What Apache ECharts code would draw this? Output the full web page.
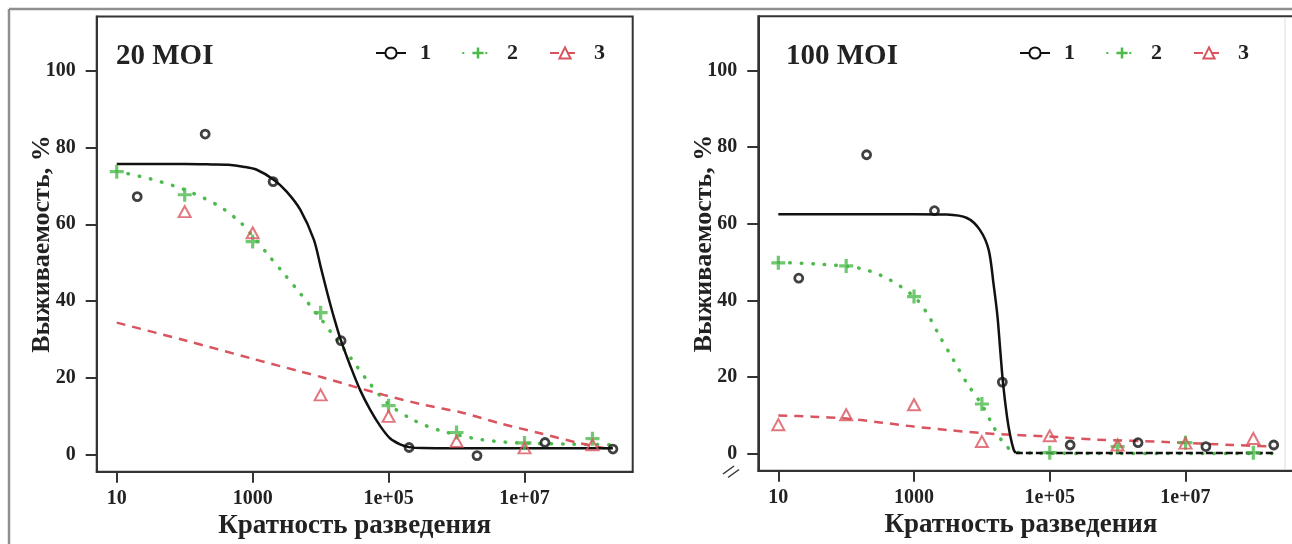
<!DOCTYPE html>
<html><head><meta charset="utf-8">
<script src="https://cdn.jsdelivr.net/npm/echarts@6/dist/echarts.min.js"></script>
<style>html,body{margin:0;padding:0;background:#fff}#c{width:1292px;height:544px}</style>
</head><body><div id="c"></div>
<script>
// ---------- DATA ----------
const panelTitles = ['20 MOI', '100 MOI'];
const seriesNames = ['1', '2', '3'];
const xAxisTitle = 'Кратность разведения';
const yAxisTitle = 'Выживаемость, %';
const xTickValues = [10, 1000, 1e5, 1e7];
const xTickLabels = ['10', '1000', '1e+05', '1e+07'];
const yTickValues = [0, 20, 40, 60, 80, 100];

// dilutions of the measured points
const dilution23 = [10, 100, 1000, 1e4, 1e5, 1e6, 1e7, 1e8];   // series 2 and 3
const dilution1 = [20, 200, 2000, 2e4, 2e5, 2e6, 2e7, 2e8];     // series 1

// 20 MOI measured survival, %
const moi20_s1 = [67.2, 83.5, 71.1, 29.7, 1.9, -0.2, 3.2, 1.5];
const moi20_s2 = [73.7, 67.7, 55.5, 37.0, 12.8, 5.8, 3.1, 4.2];
const moi20_s3 = [null, 63.3, 57.8, 15.6, 10.0, 3.5, 1.8, 2.6];
// 100 MOI measured survival, %
const moi100_s1 = [45.8, 78.0, 63.4, 18.7, 2.3, 2.9, 1.9, 2.3];
const moi100_s2 = [49.8, 49.0, 41.0, 13.0, 0.3, 1.9, 2.9, 0.3];
const moi100_s3 = [7.6, 10.2, 12.8, 3.2, 4.7, 2.3, 2.8, 4.0];

// fitted curves: [log10(dilution), survival %]
const fit20_s1 = [[1.0,75.7],[1.5,75.7],[2.0,75.7],[2.4,75.6],[2.64,75.5],[2.86,75.0],[3.06,74.2],[3.31,71.6],[3.5,68.5],[3.7,63.8],[3.9,56.0],[4.0,49.0],[4.1,42.0],[4.2,35.5],[4.3,29.7],[4.44,23.0],[4.58,16.9],[4.73,11.7],[4.88,7.4],[5.02,4.3],[5.17,2.7],[5.3,2.0],[5.5,1.75],[6.0,1.7],[7.0,1.7],[8.3,1.7]];
const fit20_s2 = [[1.0,73.8],[1.5,71.8],[2.0,69.0],[2.5,64.8],[2.82,60.5],[3.0,57.0],[3.23,52.0],[3.43,47.8],[3.7,42.0],[4.0,35.5],[4.19,31.0],[4.44,25.3],[4.68,19.5],[4.98,13.5],[5.37,9.0],[5.76,6.3],[6.35,4.0],[6.89,3.1],[7.6,2.8],[8.3,2.6]];
const fit20_s3 = [[1.0,34.4],[2.0,29.8],[3.0,25.0],[3.7,21.7],[4.02,20.2],[4.48,17.8],[4.93,15.6],[5.52,13.0],[6.1,10.9],[6.64,8.2],[7.23,5.6],[7.77,3.2],[8.3,1.3]];
const fit100_s1 = [[1.0,62.5],[2.0,62.5],[3.0,62.5],[3.48,62.4],[3.78,61.5],[3.97,58.4],[4.1,53.2],[4.17,44.5],[4.23,35.8],[4.27,27.1],[4.31,18.7],[4.37,9.7],[4.42,4.5],[4.47,1.0],[4.5,0.2]];
const fit100_s1_tail = [[4.5,0.2],[8.3,0.2]];
const fit100_s2 = [[1.0,49.9],[1.57,49.5],[2.2,48.4],[2.6,45.8],[3.0,41.0],[3.19,36.7],[3.38,30.6],[3.58,24.5],[3.78,18.4],[4.01,12.5],[4.17,7.1],[4.32,2.8],[4.47,0.6],[4.7,0.2],[6.0,0.1],[8.3,0.1]];
const fit100_s3 = [[1.0,10.0],[1.5,9.7],[2.0,9.2],[2.5,8.2],[3.0,7.1],[3.5,6.2],[4.0,5.4],[4.5,4.9],[5.0,4.5],[5.7,3.7],[6.7,3.1],[7.7,2.3],[8.3,1.9]];

// ---------- STYLE ----------
const FONT = 'Liberation Serif';
const TXT = '#222';
const AX = '#333';
const C1 = '#111111', C2 = '#4cbb4c', C3 = '#d9545f';
const PLUS = 'path://M0,5.4H14V8.6H0Z M5.4,0H8.6V14H5.4Z';

function pts(xs, ys) {
  const out = [];
  xs.forEach((x, i) => { if (ys[i] != null) out.push([Math.log10(x), ys[i]]); });
  return out;
}
function xLabel(v) {
  for (let i = 0; i < xTickValues.length; i++) {
    if (Math.abs(Math.log10(xTickValues[i]) - v) < 1e-6) return xTickLabels[i];
  }
  return '';
}
const xTicks = xTickValues.map(v => Math.log10(v));
const labelFont = {fontFamily: FONT, fontSize: 20, fontWeight: 'bold', color: TXT};

const grids = [
  {left: 96.7, right: 659.3, top: 16.5, bottom: 72.3},
  {left: 758.3, right: -1.5, top: 16.3, bottom: 73.3}
];
const xAxes = [], yAxes = [];
grids.forEach((g, p) => {
  Object.assign(g, {show: true, borderColor: AX, borderWidth: 2, backgroundColor: 'transparent', containLabel: false, outerBoundsMode: 'none'});
  xAxes.push({
    type: 'value', gridIndex: p, min: 0.705, max: 8.592,
    axisLine: {show: true, onZero: false, lineStyle: {color: AX, width: 2}},
    axisTick: {show: true, inside: false, length: 11, customValues: xTicks, lineStyle: {color: AX, width: 2}},
    axisLabel: Object.assign({customValues: xTicks, margin: 17, formatter: xLabel}, labelFont),
    splitLine: {show: false},
    name: xAxisTitle, nameLocation: 'middle', nameGap: 41, nameMoveOverlap: false,
    nameTextStyle: {fontFamily: FONT, fontSize: 27, fontWeight: 'bold', color: TXT, padding: p === 0 ? [0, 20, 0, 0] : [0, 10, 0, 0]}
  });
  yAxes.push({
    type: 'value', gridIndex: p, min: -4.4, max: 114.1,
    axisLine: {show: true, onZero: false, lineStyle: {color: AX, width: 2}},
    axisTick: {show: true, inside: false, length: 11, customValues: yTickValues, lineStyle: {color: AX, width: 2}},
    axisLabel: Object.assign({customValues: yTickValues, margin: 21}, labelFont),
    splitLine: {show: false},
    name: yAxisTitle, nameLocation: 'middle', nameGap: 41, nameMoveOverlap: false,
    nameTextStyle: {fontFamily: FONT, fontSize: 26, fontWeight: 'bold', color: TXT}
  });
});

const panels = [
  {s1: moi20_s1, s2: moi20_s2, s3: moi20_s3, f1: fit20_s1, f2: fit20_s2, f3: fit20_s3, tail: null},
  {s1: moi100_s1, s2: moi100_s2, s3: moi100_s3, f1: fit100_s1, f2: fit100_s2, f3: fit100_s3, tail: fit100_s1_tail}
];
const series = [];
panels.forEach((d, p) => {
  const ax = {xAxisIndex: p, yAxisIndex: p};
  series.push(Object.assign({type: 'line', name: seriesNames[0], data: d.f1, smooth: 0.3, showSymbol: false, symbol: 'emptyCircle',
    itemStyle: {color: C1}, lineStyle: {color: C1, width: 2.5}, z: 3}, ax));
  series.push(Object.assign({type: 'line', name: seriesNames[1], data: d.f2, smooth: 0.3, showSymbol: false, symbol: PLUS,
    itemStyle: {color: C2}, lineStyle: {color: C2, width: 3.5, type: [0.5, 11], cap: 'round'}, z: 2}, ax));
  series.push(Object.assign({type: 'line', name: seriesNames[2], data: d.f3, smooth: 0.3, showSymbol: false, symbol: 'emptyTriangle',
    itemStyle: {color: C3}, lineStyle: {color: C3, width: 2.5, type: [9, 7]}, z: 2}, ax));
  if (d.tail) {
    series.push(Object.assign({type: 'line', name: 'tail', data: d.tail, showSymbol: false,
      lineStyle: {color: C1, width: 2.5, type: [7, 3]}, z: 3}, ax));
  }
  series.push(Object.assign({type: 'scatter', name: 'p1', data: pts(dilution1, d.s1), symbol: 'circle', symbolSize: 8,
    itemStyle: {color: 'transparent', borderColor: C1, borderWidth: 2.8}, z: 4}, ax));
  series.push(Object.assign({type: 'scatter', name: 'p2', data: pts(dilution23, d.s2), symbol: PLUS, symbolSize: 14,
    itemStyle: {color: C2}, z: 4}, ax));
  series.push(Object.assign({type: 'scatter', name: 'p3', data: pts(dilution23, d.s3), symbol: 'triangle', symbolSize: [12, 11],
    itemStyle: {color: 'transparent', borderColor: C3, borderWidth: 2}, z: 4}, ax));
});

const legendBase = {
  data: seriesNames, top: 37, orient: 'horizontal', itemWidth: 30, itemHeight: 14, itemGap: 31,
  textStyle: {fontFamily: FONT, fontSize: 22, fontWeight: 'bold', color: TXT, padding: [0, 0, 0, 9]},
  selectedMode: false
};

const gline = (x1, y1, x2, y2, stroke, w) => ({type: 'line', silent: true, shape: {x1, y1, x2, y2}, style: {stroke, lineWidth: w}});

const option = {
  animation: false,
  backgroundColor: '#fff',
  textStyle: {fontFamily: FONT},
  title: [
    {text: panelTitles[0], left: 116, top: 42, padding: 0, textStyle: {fontFamily: FONT, fontSize: 29, fontWeight: 'bold', color: TXT}},
    {text: panelTitles[1], left: 786, top: 42, padding: 0, textStyle: {fontFamily: FONT, fontSize: 29, fontWeight: 'bold', color: TXT}}
  ],
  legend: [
    Object.assign({left: 370}, legendBase),
    Object.assign({left: 1014}, legendBase)
  ],
  grid: grids,
  xAxis: xAxes,
  yAxis: yAxes,
  series: series,
  graphic: [
    gline(9, 9, 1292, 9, '#8f8f8f', 2.5),
    gline(9, 9, 9, 544, '#8f8f8f', 2.5),
    gline(1285, 17, 1285, 470, '#dddddd', 1),
    gline(723, 474, 734, 466, AX, 1.5),
    gline(728, 477.5, 739, 469.5, AX, 1.5)
  ]
};
const chart = echarts.init(document.getElementById('c'), null, {renderer: 'canvas'});
chart.setOption(option);
</script></body></html>
